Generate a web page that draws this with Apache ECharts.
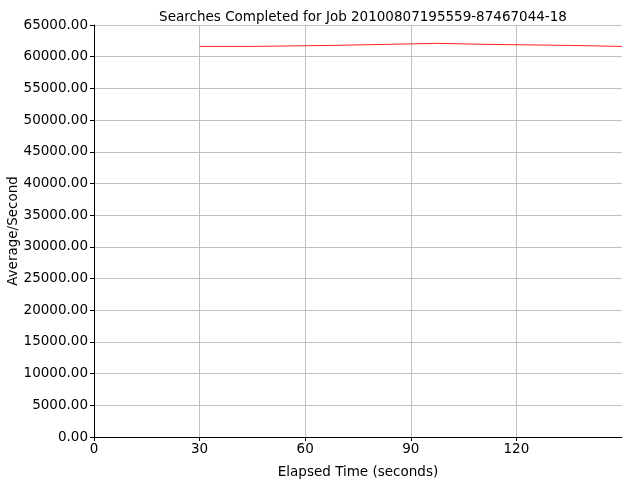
<!DOCTYPE html>
<html>
<head>
<meta charset="utf-8">
<script src="https://cdn.jsdelivr.net/npm/echarts@6/dist/echarts.min.js"></script>
<style>
  html, body { margin: 0; padding: 0; background: #fff; }
  #main { width: 640px; height: 480px; }
</style>
</head>
<body>
<div id="main"></div>
<script>
// elapsed seconds where each step begins (last one closes the final step)
const elapsed = [30, 45, 67.5, 82.5, 97.5, 112.5, 135, 150];
const avgPerSecond = [61620, 61780, 61940, 62100, 61940, 61780, 61620, 61620];

const titleText = 'Searches Completed for Job 20100807195559-87467044-18';

let points = [];
for (let i = 0; i < elapsed.length; i++) {
    points.push([elapsed[i], avgPerSecond[i]]);
}

var chart = echarts.init(document.getElementById('main'));

const font = 'DejaVu Sans';
const fsize = 13.5;

var option = {
    animation: false,
    title: {
        text: titleText,
        left: 358,
        textAlign: 'center',
        top: 5,
        textStyle: { fontFamily: font, fontSize: fsize, fontWeight: 'normal', color: '#000' }
    },
    grid: { left: 94, right: 18, top: 25, bottom: 43, containLabel: false, outerBoundsMode: 'none' },
    xAxis: {
        type: 'value',
        min: 0,
        max: 150,
        interval: 30,
        name: 'Elapsed Time (seconds)',
        nameLocation: 'middle',
        nameGap: 28,
        nameMoveOverlap: false,
        nameTextStyle: { fontFamily: font, fontSize: fsize, color: '#000' },
        axisLine: { lineStyle: { color: '#000', width: 1 } },
        axisTick: { length: 4, lineStyle: { color: '#000' } },
        axisLabel: { showMaxLabel: false, fontFamily: font, fontSize: fsize, color: '#000', margin: 5 },
        splitLine: { show: true, showMaxLine: false, lineStyle: { color: '#c0c0c0', width: 1 } }
    },
    yAxis: {
        type: 'value',
        min: 0,
        max: 65000,
        interval: 5000,
        name: 'Average/Second',
        nameLocation: 'middle',
        nameGap: 74,
        nameMoveOverlap: false,
        nameTextStyle: { fontFamily: font, fontSize: fsize, color: '#000' },
        axisLine: { show: true, lineStyle: { color: '#000', width: 1 } },
        axisTick: { show: true, length: 4, lineStyle: { color: '#000' } },
        axisLabel: {
            fontFamily: font, fontSize: fsize, color: '#000', margin: 6,
            formatter: v => v.toFixed(2)
        },
        splitLine: { show: true, lineStyle: { color: '#c0c0c0', width: 1 } }
    },
    series: [
        {
            name: 'Average/Second',
            type: 'line',
            step: 'end',
            showSymbol: false,
            lineStyle: { color: '#ff2020', width: 1 },
            data: points
        }
    ]
};

chart.setOption(option);
</script>
</body>
</html>
